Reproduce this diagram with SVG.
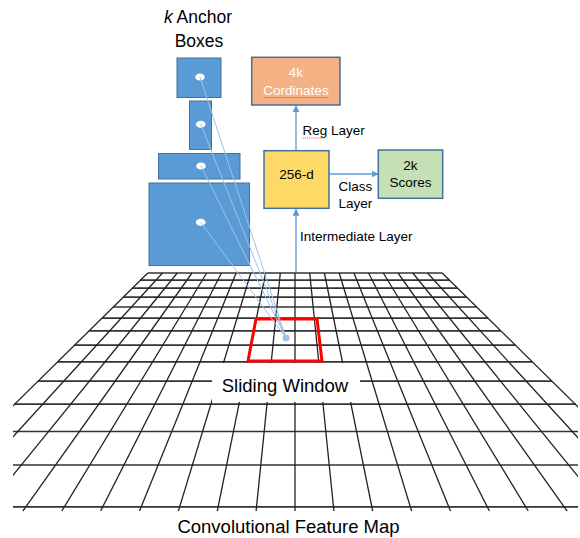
<svg xmlns="http://www.w3.org/2000/svg" width="580" height="538" viewBox="0 0 580 538">
<style>
  text { font-family: "Liberation Sans", Arial, sans-serif; fill: #000; }
  .grid line { stroke: #222; stroke-width: 1.3; }
  .grid .h { stroke: #333; stroke-width: 1.7; }
  .anchor { fill: #5B9BD5; stroke: #41719C; stroke-width: 1; }
  .adot { fill: #fff; }
  .node rect { stroke: #41719C; stroke-width: 1.5; }
  .ray { stroke: #9DC3E6; stroke-width: 1; fill: none; }
  .arrow { stroke: #5B9BD5; stroke-width: 1.3; fill: none; marker-end: url(#ah); }
  .lbl { font-size: 13.5px; }
  .spell { stroke: #E04040; stroke-width: 0.8; stroke-dasharray: 1.2 1; fill: none; }
</style>
<defs>
  <marker id="ah" viewBox="0 0 10 10" refX="9" refY="5" markerWidth="7" markerHeight="7" markerUnits="userSpaceOnUse" orient="auto">
    <path d="M0,0 L10,5 L0,10 z" fill="#5B9BD5"/>
  </marker>
  <clipPath id="gclip"><rect x="13" y="260" width="565" height="260"/></clipPath>
</defs>
<rect width="580" height="538" fill="#fff"/>

<g id="feature-map" class="grid" clip-path="url(#gclip)">
  <line class="h" x1="147.8" y1="273" x2="442.2" y2="273"/>
  <line class="h" x1="140.5" y1="280.2" x2="449.5" y2="280.2"/>
  <line class="h" x1="132.4" y1="288.2" x2="457.6" y2="288.2"/>
  <line class="h" x1="123.4" y1="297.1" x2="466.6" y2="297.1"/>
  <line class="h" x1="113.3" y1="307" x2="476.7" y2="307"/>
  <line class="h" x1="102" y1="318.1" x2="488" y2="318.1"/>
  <line class="h" x1="89.2" y1="330.8" x2="500.8" y2="330.8"/>
  <line class="h" x1="74.5" y1="345.2" x2="515.5" y2="345.2"/>
  <line class="h" x1="57.7" y1="361.8" x2="532.3" y2="361.8"/>
  <line class="h" x1="38" y1="381.2" x2="552" y2="381.2"/>
  <line class="h" x1="14" y1="404.1" x2="576" y2="404.1"/>
  <line class="h" x1="0" y1="431.5" x2="580" y2="431.5"/>
  <line class="h" x1="0" y1="465" x2="580" y2="465"/>
  <line class="h" x1="0" y1="506.9" x2="580" y2="506.9"/>
  <line x1="147.8" y1="273" x2="-93.7" y2="511"/>
  <line x1="162.5" y1="273" x2="-54.8" y2="511"/>
  <line x1="177.2" y1="273" x2="-16" y2="511"/>
  <line x1="192" y1="273" x2="22.9" y2="511"/>
  <line x1="206.7" y1="273" x2="61.8" y2="511"/>
  <line x1="221.4" y1="273" x2="100.6" y2="511"/>
  <line x1="236.1" y1="273" x2="139.5" y2="511"/>
  <line x1="250.8" y1="273" x2="178.4" y2="511"/>
  <line x1="265.6" y1="273" x2="217.3" y2="511"/>
  <line x1="280.3" y1="273" x2="256.1" y2="511"/>
  <line x1="295" y1="273" x2="295" y2="511"/>
  <line x1="309.7" y1="273" x2="333.9" y2="511"/>
  <line x1="324.4" y1="273" x2="372.7" y2="511"/>
  <line x1="339.2" y1="273" x2="411.6" y2="511"/>
  <line x1="353.9" y1="273" x2="450.5" y2="511"/>
  <line x1="368.6" y1="273" x2="489.4" y2="511"/>
  <line x1="383.3" y1="273" x2="528.2" y2="511"/>
  <line x1="398" y1="273" x2="567.1" y2="511"/>
  <line x1="412.8" y1="273" x2="606" y2="511"/>
  <line x1="427.5" y1="273" x2="644.8" y2="511"/>
  <line x1="442.2" y1="273" x2="683.7" y2="511"/>
</g>

<g id="sliding-window">
  <polygon points="256,319 317,319 322,361 248,361" fill="none" stroke="#FF0000" stroke-width="3"/>
</g>

<g id="sliding-window-label">
  <rect x="212" y="363" width="148" height="39" fill="#fff"/>
  <text x="285" y="392" font-size="18.5" text-anchor="middle">Sliding Window</text>
</g>

<g id="anchor-boxes">
  <rect class="anchor" x="177" y="58" width="44" height="39.5"/>
  <rect class="anchor" x="189.5" y="101" width="22" height="48.5"/>
  <rect class="anchor" x="158.5" y="153.5" width="81.5" height="25.5"/>
  <rect class="anchor" x="149" y="183" width="100.5" height="82.5"/>
  <ellipse class="adot" cx="200" cy="77" rx="4.8" ry="3.6"/>
  <ellipse class="adot" cx="200.7" cy="124.3" rx="4.8" ry="3.6"/>
  <ellipse class="adot" cx="201" cy="166" rx="4.8" ry="3.6"/>
  <ellipse class="adot" cx="200.7" cy="222.3" rx="4.8" ry="3.6"/>
</g>

<g id="connectors">
  <line class="ray" x1="200" y1="77" x2="286" y2="338"/>
  <line class="ray" x1="200.7" y1="124.3" x2="286" y2="338"/>
  <line class="ray" x1="201" y1="166" x2="286" y2="338"/>
  <line class="ray" x1="200.7" y1="222.3" x2="286" y2="338"/>
  <circle cx="286" cy="338" r="3.5" fill="#9DC3E6"/>
  <line class="arrow" x1="296" y1="272" x2="296" y2="209.5"/>
  <line class="arrow" x1="296" y1="150" x2="296" y2="106"/>
  <line class="arrow" x1="329.5" y1="174" x2="378" y2="174"/>
</g>

<g id="anchor-title">
  <text x="198" y="23" font-size="17.5" text-anchor="middle"><tspan font-style="italic">k</tspan> Anchor</text>
  <text x="199" y="47" font-size="17.5" text-anchor="middle">Boxes</text>
</g>

<g id="node-4k" class="node">
  <rect x="251.7" y="57.3" width="88.3" height="47.7" fill="#F4B183"/>
  <text class="lbl" x="296" y="77" text-anchor="middle" style="fill:#fff">4k</text>
  <text class="lbl" x="296" y="94.5" text-anchor="middle" style="fill:#fff">Cordinates</text>
  <path class="spell" d="M264,97.5 L328,97.5"/>
</g>

<g id="node-256d" class="node">
  <rect x="264" y="150.7" width="65" height="57.6" fill="#FFD966"/>
  <text class="lbl" x="296.5" y="178.5" text-anchor="middle">256-d</text>
</g>

<g id="node-2k" class="node">
  <rect x="378.3" y="150" width="64.4" height="48.3" fill="#C5E0B4"/>
  <text class="lbl" x="410.5" y="170" text-anchor="middle">2k</text>
  <text class="lbl" x="410.5" y="187" text-anchor="middle">Scores</text>
</g>

<g id="labels">
  <text class="lbl" x="302.5" y="135">Reg Layer</text>
  <path class="spell" d="M302.5,138 L324,138"/>
  <text class="lbl" x="338.5" y="190.5">Class</text>
  <text class="lbl" x="338.5" y="207.5">Layer</text>
  <text class="lbl" x="300" y="240.5">Intermediate Layer</text>
  <text x="288.5" y="533" font-size="18.5" text-anchor="middle">Convolutional Feature Map</text>
</g>
</svg>
